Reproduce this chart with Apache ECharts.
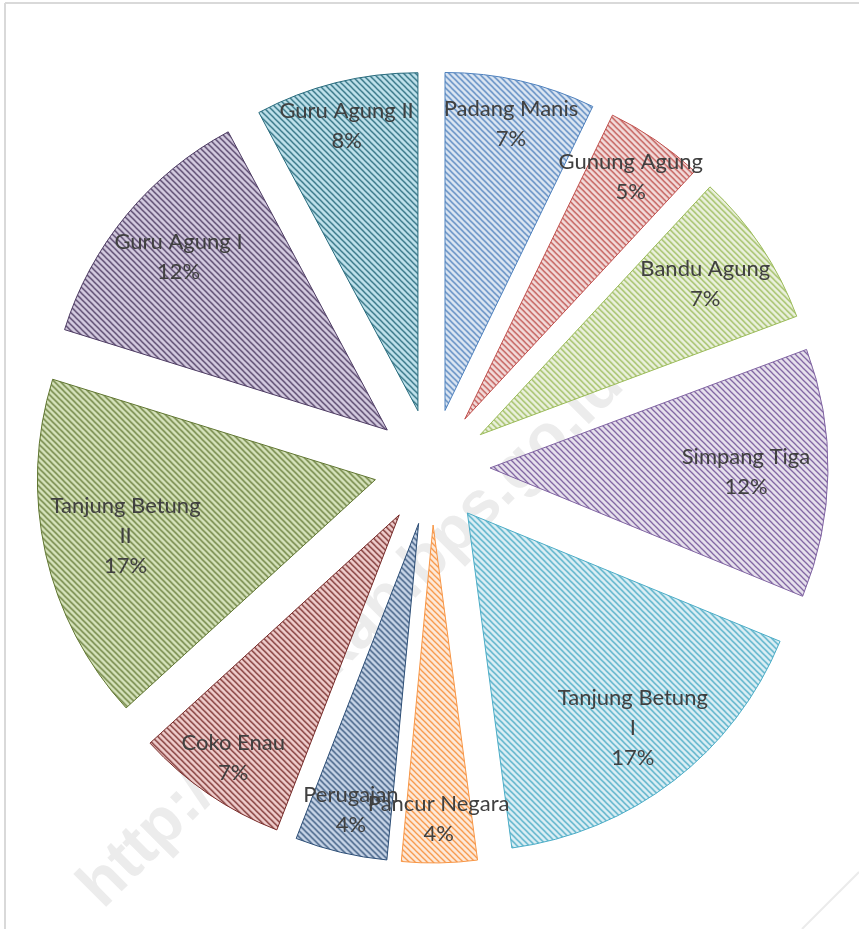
<!DOCTYPE html>
<html>
<head>
<meta charset="utf-8">
<script src="https://cdn.jsdelivr.net/npm/echarts@6/dist/echarts.min.js"></script>
<style>
  html, body { margin: 0; padding: 0; background: #fff; }
  #chart { width: 859px; height: 929px; }
</style>
</head>
<body>
<div id="chart"></div>
<script>
// data desa (persen, dibaca dari besar irisan)
var desa = ['Padang Manis', 'Gunung Agung', 'Bandu Agung', 'Simpang Tiga', 'Tanjung Betung I',
  'Pancur Negara', 'Perugajan', 'Coko Enau', 'Tanjung Betung II', 'Guru Agung I', 'Guru Agung II'];
var persen = [7.2, 4.7, 7.4, 11.9, 16.7, 3.6, 4.4, 7.3, 16.6, 12.4, 7.8];

// warna garis arsir & latar
var garis = ['#4f81bd', '#c0504d', '#9bbb59', '#8064a2', '#4bacc6', '#f79646',
  '#2c4d75', '#772c2a', '#5f7530', '#4d3b62', '#276a7c'];
var latar = ['#dce6f2', '#f2dcdb', '#ebf1de', '#e6e0ec', '#dbeef4', '#fde9d9',
  '#c9d6e8', '#efcdcc', '#d7e4bd', '#d4cbe0', '#c0e2ec'];

// letak label: 0 = dekat tepi, 1 = tengah, 2 = agak ke dalam
var letakLabel = [0, 0, 1, 2, 1, 0, 0, 0, 2, 1, 0];
var cincinLabel = [244, 198, 168];

function arsir (fg, bg) {
  var c = document.createElement('canvas');
  c.width = 6; c.height = 6;
  var ctx = c.getContext('2d');
  ctx.fillStyle = bg;
  ctx.fillRect(0, 0, 6, 6);
  ctx.strokeStyle = fg;
  ctx.lineWidth = 1.25;
  for (var k = -6; k <= 6; k += 6) {
    ctx.beginPath();
    ctx.moveTo(-1, -1 + k);
    ctx.lineTo(7, 7 + k);
    ctx.stroke();
  }
  return c;
}

var chart = echarts.init(document.getElementById('chart'));
var pusat = [432, 467];

var irisan = desa.map(function (n, i) {
  return {
    name: n,
    value: persen[i],
    selected: true,
    itemStyle: {
      color: { image: arsir(garis[i], latar[i]), repeat: 'repeat' },
      borderColor: garis[i],
      borderWidth: 1
    }
  };
});

function labelSeries (grup) {
  return {
    type: 'pie',
    center: pusat,
    radius: [cincinLabel[grup], 338],
    startAngle: 90,
    clockwise: true,
    selectedMode: 'multiple',
    selectedOffset: 58,
    silent: true,
    minShowLabelAngle: 0,
    labelLayout: { hideOverlap: false },
    itemStyle: { color: 'rgba(0,0,0,0)' },
    emphasis: { disabled: true },
    labelLine: { show: false },
    label: {
      show: true,
      position: 'inside',
      color: '#404040',
      fontFamily: 'Lato',
      fontSize: 22,
      lineHeight: 30,
      formatter: function (p) {
        var nm = p.name;
        if (nm.length > 14) {
          var j = nm.lastIndexOf(' ');
          nm = nm.slice(0, j) + '\n' + nm.slice(j + 1);
        }
        return nm + '\n' + Math.round(p.percent) + '%';
      }
    },
    data: desa.map(function (n, i) {
      return { name: n, value: persen[i], selected: true, label: { show: letakLabel[i] === grup } };
    })
  };
}

chart.setOption({
  animation: false,
  graphic: [
    {
      type: 'text', z: 0,
      x: 352, y: 636, rotation: Math.PI / 4,
      style: {
        text: 'http://lahatkab.bps.go.id',
        font: 'bold 64px "Liberation Sans", sans-serif',
        fill: '#ececec',
        align: 'center', verticalAlign: 'middle'
      }
    },
    { type: 'line', z: 0, shape: { x1: 5, y1: 3, x2: 5, y2: 929 }, style: { stroke: '#d9d9d9', lineWidth: 2 } },
    { type: 'line', z: 0, shape: { x1: 5, y1: 3, x2: 859, y2: 3 }, style: { stroke: '#d9d9d9', lineWidth: 2 } },
    { type: 'line', z: 0, shape: { x1: 802, y1: 929, x2: 859, y2: 872 }, style: { stroke: '#ebebeb', lineWidth: 2 } }
  ],
  series: [
    {
      type: 'pie',
      center: pusat,
      radius: 338,
      startAngle: 90,
      clockwise: true,
      selectedMode: 'multiple',
      selectedOffset: 58,
      silent: true,
      label: { show: false },
      labelLine: { show: false },
      emphasis: { disabled: true },
      data: irisan
    },
    labelSeries(0),
    labelSeries(1),
    labelSeries(2)
  ]
});
</script>
</body>
</html>
